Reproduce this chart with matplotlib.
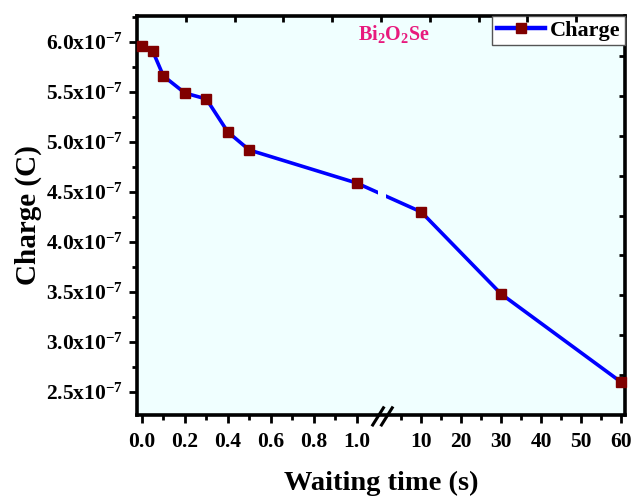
import numpy as np
import matplotlib
matplotlib.use("Agg")
import matplotlib.pyplot as plt
from matplotlib.patches import Rectangle
from matplotlib.lines import Line2D

# ---- data ----
waiting_time = [0.0, 0.05, 0.1, 0.2, 0.3, 0.4, 0.5, 1.0, 10, 30, 60]
charge = [5.96e-7, 5.91e-7, 5.66e-7, 5.49e-7, 5.43e-7, 5.10e-7, 4.92e-7,
          4.59e-7, 4.30e-7, 3.48e-7, 2.60e-7]
x_major = [0.0, 0.2, 0.4, 0.6, 0.8, 1.0, 10, 20, 30, 40, 50, 60]
x_major_labels = ["0.0", "0.2", "0.4", "0.6", "0.8", "1.0", "10", "20", "30", "40", "50", "60"]
x_minor = [0.1, 0.3, 0.5, 0.7, 0.9, 5, 15, 25, 35, 45, 55]
y_major = [2.5e-7, 3.0e-7, 3.5e-7, 4.0e-7, 4.5e-7, 5.0e-7, 5.5e-7, 6.0e-7]
y_minor = [2.75e-7, 3.25e-7, 3.75e-7, 4.25e-7, 4.75e-7, 5.25e-7, 5.75e-7, 6.25e-7]
series_label = "Charge"
sample_label = r"Bi$_2$O$_2$Se"

plt.rcParams["font.family"] = ["Liberation Serif", "DejaVu Serif"]
plt.rcParams["font.weight"] = "bold"
plt.rcParams["mathtext.fontset"] = "custom"
plt.rcParams["mathtext.rm"] = "Liberation Serif:bold"
plt.rcParams["mathtext.bf"] = "Liberation Serif:bold"
plt.rcParams["mathtext.it"] = "Liberation Serif:bold:italic"
plt.rcParams["mathtext.default"] = "rm"

# broken axis scale: linear 0..b, then compressed segment for 10..60
b = 1.115
k = 4.0 / 215.0
T = 2.0
xp = np.array([-100.0, b, T, 1000.0])
fp = np.array([-100.0, b, b + T * k, b + 1000.0 * k])

def fwd(x):
    return np.interp(x, xp, fp)

def inv(u):
    return np.interp(u, fp, xp)

fig = plt.figure(figsize=(6.33, 5.01), dpi=100)
pos = [137 / 633, 1 - 415 / 501, 488 / 633, 399 / 501]
ax = fig.add_axes(pos)
ax.set_facecolor("#F0FFFF")
ax.set_xscale("function", functions=(fwd, inv))

ax.plot(waiting_time, charge, color="#0000FF", lw=2.6, zorder=3)
ax.plot(waiting_time, charge, ls="none", marker="s", ms=7.8,
        mfc="#800000", mec="#800000", zorder=5, clip_on=False)

ax.set_xlim(-0.023, 61)
ax.set_ylim(2.27e-7, 6.26e-7)

ax.set_xticks(x_major)
ax.set_xticklabels(x_major_labels)
ax.set_xticks(x_minor, minor=True)
ax.set_yticks(y_major)
ax.set_yticklabels([f"{v / 1e-7:.1f}x10$^{{-7}}$" for v in y_major])
ax.set_yticks(y_minor, minor=True)
ax.set_ylim(2.27e-7, 6.26e-7)

ax.tick_params(which="both", direction="out", top=False, right=False,
               labelsize=15.5, width=2.0)
ax.tick_params(which="major", length=6)
ax.tick_params(which="minor", length=3.5)
ax.tick_params(axis="x", pad=6)
ax.tick_params(axis="y", pad=4)
for s in ax.spines.values():
    s.set_linewidth(2.6)

ax.set_xlabel("Waiting time (s)", fontsize=20.5, fontweight="bold", labelpad=14)
ax.set_ylabel("Charge (C)", fontsize=21, fontweight="bold", labelpad=3)

# gap in line at the break
ax.add_patch(Rectangle((0.493, 0.40), 0.017, 0.30, transform=ax.transAxes,
                       facecolor="#F0FFFF", edgecolor="none", zorder=4))
# break marks
for cx in (0.494, 0.512):
    ax.add_line(Line2D([cx - 0.011, cx + 0.011], [-0.025, 0.018],
                       transform=ax.transAxes, color="black", lw=2.2,
                       clip_on=False, zorder=6))

ax.text(0.527, 0.955, sample_label, transform=ax.transAxes, ha="center", va="center",
        color="#E8197D", fontsize=14.5, fontweight="bold", zorder=7)

handle = Line2D([], [], color="#0000FF", lw=3.2, marker="s", ms=7.8,
                mfc="#800000", mec="#800000")
leg = ax.legend([handle], [series_label], loc="upper right", borderaxespad=0,
                fontsize=16, handlelength=2.2, handletextpad=0.2,
                fancybox=False, framealpha=1, edgecolor="#555555",
                borderpad=0.2)
leg.get_frame().set_linewidth(1.0)
leg.set_zorder(8)

# independent top/right tick axes
ax2 = fig.add_axes(pos, frameon=False)
ax2.set_xlim(0, 1)
ax2.set_ylim(0, 1)
ax2.patch.set_visible(False)
ax2.xaxis.tick_top()
ax2.yaxis.tick_right()
ax2.set_xticks(np.arange(1, 10) / 10)
ax2.set_yticks(np.arange(1, 10) / 10)
ax2.tick_params(which="both", direction="in", length=4, width=2.0,
                labeltop=False, labelright=False, labelbottom=False, labelleft=False)

fig.savefig("out.png", dpi=100)
